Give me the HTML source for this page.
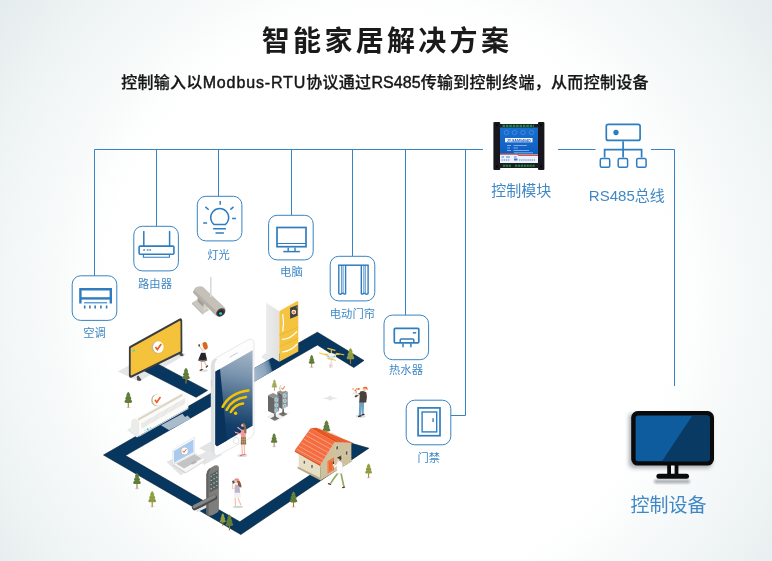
<!DOCTYPE html>
<html lang="zh-CN">
<head>
<meta charset="utf-8">
<title>智能家居解决方案</title>
<style>
html,body{margin:0;padding:0;}
body{width:772px;height:561px;overflow:hidden;position:relative;background:#fff;
font-family:"Liberation Sans","Noto Sans CJK SC",sans-serif;}
#bg{position:absolute;left:0;top:0;width:772px;height:561px;
background:radial-gradient(circle 500px at 390px 300px,#fff 0,#fff 57%,#f3f7f7 76%,#e4ebec 100%);}
h1{position:absolute;left:0;top:21.5px;width:772px;margin:0;text-align:center;font-size:28px;line-height:40px;font-weight:700;color:#1a1a1a;letter-spacing:3.3px;text-indent:2px;}
p.sub{position:absolute;left:-1px;top:71px;width:772px;margin:0;text-align:center;font-size:16px;line-height:24px;font-weight:500;color:#161616;-webkit-text-stroke:0.25px #161616;letter-spacing:0.3px;}
p.sub span{letter-spacing:0.87px;-webkit-text-stroke:0.45px #161616;}
p.sub span.b{letter-spacing:0.07px;}
svg{position:absolute;left:0;top:0;will-change:transform;}
h1,p.sub{will-change:transform;}
svg text{font-family:"Liberation Sans","Noto Sans CJK SC",sans-serif;}
.lb{font-size:11.3px;fill:#3f88c5;text-anchor:middle;}
.lb2{font-size:15px;fill:#3f88c5;text-anchor:middle;}
.lb3{font-size:19px;fill:#3f88c5;text-anchor:middle;}
</style>
</head>
<body>
<div id="bg"></div>
<h1>智能家居解决方案</h1>
<p class="sub">控制输入以<span>Modbus-RTU</span>协议通过<span class="b">RS485</span>传输到控制终端，从而控制设备</p>
<svg width="772" height="561" viewBox="0 0 772 561">
<!-- connection lines -->
<g fill="none" stroke="#3883c2" stroke-width="1">
<path d="M94.5 276V149.5H483"/>
<path d="M156.5 226V149.5"/>
<path d="M218.5 196V149.5"/>
<path d="M291.5 215V149.5"/>
<path d="M352.5 256V149.5"/>
<path d="M405.5 315V149.5"/>
<path d="M451 415.5H465.5V149.5"/>
<path d="M558 149.5H595.5"/>
<path d="M651 149.5H674.5V386"/>
</g>
<!-- icon boxes -->
<g fill="#fff" stroke="#3883c2" stroke-width="1">
<rect x="72.2" y="275.8" width="44.6" height="44.6" rx="8.5"/>
<rect x="133.8" y="226.3" width="44.6" height="44.6" rx="8.5"/>
<rect x="197.3" y="196.3" width="44.6" height="44.6" rx="8.5"/>
<rect x="268.6" y="215.3" width="44.6" height="44.6" rx="8.5"/>
<rect x="330.2" y="256.3" width="44.6" height="44.6" rx="8.5"/>
<rect x="384" y="315.1" width="44.6" height="44.6" rx="8.5"/>
<rect x="406.2" y="400.2" width="44.6" height="44.6" rx="8.5"/>
</g>
<!-- air conditioner icon -->
<g fill="none" stroke="#2f7dbf">
<path d="M80.4 303.5V289.2H110.8V303.5" stroke-width="2.4"/>
<path d="M80.4 298.4H110.8" stroke-width="2.4"/>
<path d="M84.1 302.8H107.2" stroke-width="1.1"/>
<path d="M84.7 305.6v3M89.9 305.6v3M95.2 305.6v3M100.9 305.6v3M106.6 305.6v3" stroke-width="1.6"/>
</g>
<!-- router icon -->
<g fill="none" stroke="#2f7dbf">
<rect x="139.1" y="246.1" width="34.8" height="8.2" rx="1" stroke-width="1.6"/>
<path d="M143.8 231.4V246M169.6 231.4V246" stroke-width="1.5" stroke-linecap="round"/>
<path d="M143.4 254.5V257.3H169.4V254.5" stroke-width="1.1"/>
<path d="M143.3 250h1.6M146.8 250h1M148.5 250h1M150.1 250h1" stroke-width="1.6"/>
</g>
<!-- light bulb icon -->
<g fill="none" stroke="#2f7dbf" stroke-width="1.5">
<path d="M214.2 224.6A9 9 0 1 1 225.2 224.6Z" stroke-linejoin="round"/>
<path d="M213.2 228.8H225.9M215.5 232.9H223.9"/>
<path d="M220.2 201.1V204.8M205.4 206.9L208.7 209.8M233.5 206.9L230.4 209.6M203.2 222.9H207.1M232.1 218.6H235.9"/>
</g>
<!-- computer icon -->
<g fill="none" stroke="#2f7dbf">
<rect x="277" y="227.5" width="29" height="19.2" stroke-width="1.7"/>
<path d="M277 243.5H306" stroke-width="1"/>
<path d="M288.2 247.4V251.5M295 247.4V251.5" stroke-width="1.4"/>
<path d="M283.3 251.6H299.9" stroke-width="1.5"/>
</g>
<!-- curtain icon -->
<g fill="none" stroke="#2f7dbf">
<path d="M338.1 265.2H368.6" stroke-width="1.5"/>
<path d="M338.8 265V293.5Q340.3 295 341.8 293.6L343 293.2Q344.4 294.6 345.6 293.6V265" stroke-width="1.4"/>
<path d="M341.6 265V293.5M343.1 265V293.2" stroke-width="0.8"/>
<path d="M361.3 265V293.6Q362.5 294.6 363.9 293.2L365.1 293.6Q366.6 295 368.1 293.5V265" stroke-width="1.4"/>
<path d="M363.8 265V293.2M365.3 265V293.5" stroke-width="0.8"/>
</g>
<!-- water heater icon -->
<g fill="none" stroke="#2f7dbf">
<rect x="394.3" y="328.3" width="24.5" height="14.5" rx="1" stroke-width="1.7"/>
<path d="M400.2 342.8V340Q400.2 339 401.2 339H412.8Q413.8 339 413.8 340V342.8" stroke-width="1.5"/>
<path d="M412.8 332.8H416.2" stroke-width="1.5"/>
<path d="M403 343.5V347.3M410.9 343.5V347.3" stroke-width="1.5"/>
</g>
<!-- door icon -->
<g fill="none" stroke="#2f7dbf">
<rect x="418.1" y="407.9" width="21.9" height="27.8" stroke-width="1.7"/>
<rect x="422.1" y="412" width="14.6" height="19.9" stroke-width="1.4"/>
<path d="M433.1 418.3V422" stroke-width="1.4"/>
</g>
<!-- RS485 bus icon -->
<g fill="none" stroke="#2f7dbf" stroke-width="1.7">
<rect x="606.3" y="124.3" width="33.8" height="16.1" rx="2"/>
<path d="M623.1 141.2V157.5M604.6 157.5V149.6H641.6V157.5"/>
<rect x="600.3" y="158.4" width="9.4" height="8.8" rx="1.5" stroke-width="1.5"/>
<rect x="618.2" y="158.4" width="9.4" height="8.8" rx="1.5" stroke-width="1.5"/>
<rect x="636.7" y="158.4" width="9.4" height="8.8" rx="1.5" stroke-width="1.5"/>
<circle cx="616" cy="132.5" r="1.8" fill="#2f7dbf"/>
</g>
<!-- labels -->
<text class="lb" x="94.5" y="337">空调</text>
<text class="lb" x="155" y="288.2">路由器</text>
<text class="lb" x="218.6" y="259">灯光</text>
<text class="lb" x="291.4" y="276.3">电脑</text>
<text class="lb" x="352.4" y="318.3">电动门帘</text>
<text class="lb" x="406" y="374">热水器</text>
<text class="lb" x="428.7" y="462.3">门禁</text>
<text class="lb2" x="521.2" y="196">控制模块</text>
<text class="lb2" x="626.8" y="201">RS485总线</text>
<text class="lb3" x="668.6" y="512">控制设备</text>
<!-- control module -->
<defs>
<filter id="blur1" x="-20%" y="-20%" width="140%" height="140%"><feGaussianBlur stdDeviation="0.5"/></filter>
<filter id="blur2" x="-30%" y="-30%" width="160%" height="160%"><feGaussianBlur stdDeviation="2.2"/></filter>
<filter id="blur3" x="-30%" y="-30%" width="160%" height="160%"><feGaussianBlur stdDeviation="1.2"/></filter>
<linearGradient id="modblue" x1="0" y1="0" x2="0" y2="1"><stop offset="0" stop-color="#1a6fd0"/><stop offset="1" stop-color="#0f5fc0"/></linearGradient>
</defs>
<g filter="url(#blur1)">
<rect x="493.4" y="122" width="6.8" height="48" rx="1" fill="#16181b"/>
<rect x="538" y="122" width="6.4" height="48" rx="1" fill="#16181b"/>
<rect x="499" y="124" width="40" height="5" fill="#1b1d20"/>
<rect x="499" y="162.5" width="40" height="5.5" fill="#1b1d20"/>
<path d="M502.5 125.9H534" stroke="#24873f" stroke-width="2.2" stroke-dasharray="2.6 0.8" fill="none"/>
<path d="M503 165.7H511" stroke="#24873f" stroke-width="2" stroke-dasharray="2.2 0.7" fill="none"/>
<path d="M515 165.7H535" stroke="#24873f" stroke-width="2" stroke-dasharray="2.2 0.7" fill="none"/>
<rect x="500" y="127.5" width="38" height="27" fill="url(#modblue)"/>
<rect x="500" y="155" width="38" height="8" fill="#eef3fb"/>
<path d="M500 154H517L519 155.4H538" stroke="#e8502e" stroke-width="1.1" fill="none"/>
<rect x="505" y="138" width="27.5" height="4.3" fill="#f4f8ff"/>
<text x="518.8" y="141.5" font-size="3.4" font-weight="700" fill="#1d5cc0" text-anchor="middle" textLength="24" lengthAdjust="spacingAndGlyphs">JY-8AM0404D</text>
<g fill="none" stroke="#4d8fe0" stroke-width="0.8"><circle cx="506.5" cy="132.5" r="2.2"/><circle cx="514.5" cy="132.5" r="2.2"/><circle cx="523" cy="132.5" r="2.2"/><circle cx="531.5" cy="132.5" r="2.2"/></g>
<g stroke="#9cc0f0" stroke-width="0.8"><path d="M507 145.5H511M513.5 145.5H527M507 148H510M513.5 148H518M507 150.5H511M513.5 150.5H529M514 152.8H533"/></g>
<g stroke="#3a78d2" stroke-width="0.9"><path d="M501.5 157H504M506 157H510M514 157H516.5"/><path d="M501.5 160H510M519 160H535" stroke-dasharray="1.4 0.7"/><path d="M514 159.5H517.5" stroke-width="2"/></g>
<circle cx="496.8" cy="125.3" r="1" fill="#000"/><circle cx="496.8" cy="166.6" r="1" fill="#000"/><circle cx="541.2" cy="125.3" r="1" fill="#000"/><circle cx="541.2" cy="166.6" r="1" fill="#000"/>
</g>
<!-- control device monitor -->
<g>
<path d="M629 416Q629 414 631 414H708Q712 414 712 418V462Q712 468 706 468H634Q629 468 629 463Z" fill="#8a9097" opacity="0.75" filter="url(#blur2)"/>
<rect x="654" y="479.5" width="36" height="4" rx="2" fill="#9aa0a6" opacity="0.8" filter="url(#blur3)"/>
<rect x="667.2" y="464" width="11.2" height="11" fill="#0a0a0a"/>
<rect x="671" y="465" width="3.6" height="9.2" fill="#f2f4f5"/>
<rect x="656.4" y="473.8" width="32.6" height="5" rx="2.5" fill="#0a0a0a"/>
<rect x="631.2" y="411" width="82.8" height="54.6" rx="6.5" fill="#0a0a0a"/>
<rect x="635.6" y="415.4" width="74" height="45.8" rx="2.5" fill="#0e5c9e"/>
<path d="M692.4 415.4H707.1Q709.6 415.4 709.6 417.9V458.7Q709.6 461.2 707.1 461.2H662Z" fill="#083a63"/>
</g>
<!-- isometric smart home illustration -->
<defs>
<linearGradient id="roadfade" gradientUnits="userSpaceOnUse" x1="254" y1="372" x2="278" y2="365"><stop offset="0" stop-color="#a3b6c9"/><stop offset="0.45" stop-color="#8da5bd"/><stop offset="0.66" stop-color="#6283a5"/><stop offset="0.74" stop-color="#09355f"/></linearGradient>
<linearGradient id="phscreen" gradientUnits="userSpaceOnUse" x1="228" y1="447" x2="246" y2="351"><stop offset="0" stop-color="#0a3560"/><stop offset="0.22" stop-color="#123e69"/><stop offset="0.5" stop-color="#456889"/><stop offset="0.75" stop-color="#7b95af"/><stop offset="1" stop-color="#a3b5c6"/></linearGradient>
<linearGradient id="fridgeL" x1="0" y1="0" x2="1" y2="0"><stop offset="0" stop-color="#ececec"/><stop offset="1" stop-color="#e1e1e1"/></linearGradient>
<g id="tree">
<rect x="-0.55" y="-5" width="1.1" height="5" fill="#ad7b35"/>
<path d="M0 -15.8C1 -15 1.7 -13.6 2 -12.6C2.2 -11.9 1.7 -11.7 1.4 -11.7C2.2 -11 2.9 -10 3 -9.1C3.1 -8.4 2.6 -8.2 2.2 -8.2C3 -7.5 3.7 -6.7 3.8 -5.9C3.9 -4.9 3 -4.5 2 -4.5H-2C-3 -4.5 -3.9 -4.9 -3.8 -5.9C-3.7 -6.7 -3 -7.5 -2.2 -8.2C-2.6 -8.2 -3.1 -8.4 -3 -9.1C-2.9 -10 -2.2 -11 -1.4 -11.7C-1.7 -11.7 -2.2 -11.9 -2 -12.6C-1.7 -13.6 -1 -15 0 -15.8Z" fill="#637f3c"/>
<path d="M-2.4 -9L2.4 -9M-3.2 -6.2L3.2 -6.2" stroke="#4f6c35" stroke-width="0.5" opacity="0.6"/>
</g>
<g id="tree2">
<rect x="-0.55" y="-5" width="1.1" height="5" fill="#a8792c"/>
<path d="M0 -15.8C1 -15 1.7 -13.6 2 -12.6C2.2 -11.9 1.7 -11.7 1.4 -11.7C2.2 -11 2.9 -10 3 -9.1C3.1 -8.4 2.6 -8.2 2.2 -8.2C3 -7.5 3.7 -6.7 3.8 -5.9C3.9 -4.9 3 -4.5 2 -4.5H-2C-3 -4.5 -3.9 -4.9 -3.8 -5.9C-3.7 -6.7 -3 -7.5 -2.2 -8.2C-2.6 -8.2 -3.1 -8.4 -3 -9.1C-2.9 -10 -2.2 -11 -1.4 -11.7C-1.7 -11.7 -2.2 -11.9 -2 -12.6C-1.7 -13.6 -1 -15 0 -15.8Z" fill="#93a142"/>
<path d="M-2.4 -9L2.4 -9M-3.2 -6.2L3.2 -6.2" stroke="#74863c" stroke-width="0.5" opacity="0.7"/>
</g>
<g id="check">
<ellipse cx="-0.7" cy="0.3" rx="5.2" ry="5.7" fill="#cbb894"/>
<ellipse cx="0.3" cy="0" rx="4.8" ry="5.4" fill="#fff"/>
<path d="M-2.4 -0.2L-0.6 2.2L2.9 -2.8" fill="none" stroke="#f05a1e" stroke-width="1.5"/>
</g>
</defs>
<!-- ground shadows -->
<path d="M117.6 371.4L129 365.6L183 352.6L185.8 354.8L139 381.6Z" fill="#e4e5e6"/>
<path d="M196 457L214 447L222 455L204 465Z" fill="#e4e6e8"/>
<path d="M261 357L267 352L281 362L274 366Z" fill="#e6e8ea"/>
<!-- road -->
<g fill="#07365f" stroke="#041c33" stroke-width="0.6" stroke-linejoin="miter">
<path d="M103.5 455L317.4 332.2L363.9 360.5L353.8 367.5L317.4 345L125.5 455.6L239.8 521.8L312 473.8L351.6 443.3L368.8 448.2L240.8 534.5Z"/>
<path d="M150 360L159 364.7L207.5 390.4L196.1 397.3L146.1 371.8L138 367.5Z"/>
</g>
<path d="M253 368.9L281 352.9L281 366.3L253 382.5Z" fill="url(#roadfade)"/>
<path d="M161 425.2L182.5 413.7L185 417L187.5 415.4L190.7 418.8L169.2 430.3Z" fill="#a9bccc"/>
<!-- security camera -->
<g>
<path d="M192 302.8L197.8 299.2L209.2 310L203.2 313.8Z" fill="#cbc7bf"/>
<path d="M192 302.8L203.2 313.8V315L192 304Z" fill="#b0aba3"/>
<path d="M197.6 296.5L204 302.6V307.4L197.6 301.4Z" fill="#a39e97"/>
<path d="M203.4 304.6L207.6 302.2V309L203.4 311.4Z" fill="#d6d3cb"/>
<path d="M193.2 292.8Q193.4 288 197.4 286.7Q200.4 285.6 202.8 286.7L225.3 308Q226.4 312 222.8 315.2Q218.8 317.8 215.8 315.6Z" fill="#c5c1b9"/>
<path d="M193.2 292.8L215.8 315.6Q214.6 313 215.6 310.6L194.2 290.2Q193.3 291.2 193.2 292.8Z" fill="#b4afa7"/>
<rect x="210" y="277" width="1.6" height="20" fill="#dadad9"/>
<ellipse cx="220.7" cy="312.4" rx="5" ry="3.7" transform="rotate(-38 220.7 312.4)" fill="#4a3f3b"/>
<ellipse cx="220.6" cy="312.9" rx="3.2" ry="2.4" transform="rotate(-38 220.6 312.9)" fill="#2a2628"/>
<ellipse cx="220.6" cy="313.5" rx="1.6" ry="1.3" fill="#1fd4ea"/>
</g>
<!-- television -->
<g>
<path d="M136.8 376.4L138.4 375.6L141.6 380L139.8 381L137 380.2Z" fill="#4a4c52"/>
<path d="M179.2 352.4L180.8 351.6L183.8 355.2L182.2 356.2L179.6 355.6Z" fill="#4a4c52"/>
<path d="M130.9 347.8L180.2 320.4L180.4 351.5L130.9 375.6Z" fill="#3a3c43" stroke="#3a3c43" stroke-width="4" stroke-linejoin="round"/>
<path d="M131.5 348.5L179.7 321.6L179.8 350.9L131.5 374.6Z" fill="#f4c23b" stroke="#f4c23b" stroke-width="1.6" stroke-linejoin="round"/>
<g transform="translate(158 347.1) scale(1.1)"><use href="#check"/></g>
<circle cx="133.8" cy="350.6" r="1.15" fill="#19e0e6"/>
</g>
<!-- refrigerator -->
<g>
<path d="M266.1 302.7L279.3 311.3V361.8L266.1 353.7Z" fill="url(#fridgeL)"/>
<path d="M279.3 312.6Q279.3 311.3 280.4 310.6L296.8 301.2Q298.3 300.4 298.3 302V351.4L279.3 361.8Z" fill="#f4c340"/>
<path d="M279.3 335.4L298.3 327M279.3 346.7L298.3 338.3" stroke="#e0ab2c" stroke-width="0.5" fill="none"/>
<path d="M282.8 314.6Q284.2 322.6 282.8 331" stroke="#fff" stroke-width="1.2" fill="none" stroke-linecap="round"/>
<path d="M282.4 339.4Q290.4 339 296.8 331.6M282.4 352Q290.6 351.4 297.2 344" stroke="#fff" stroke-width="1.2" fill="none" stroke-linecap="round"/>
<path d="M290.1 307.7L297.6 305V315.7L290.1 318.8Z" fill="#3d4046"/>
<circle cx="293.8" cy="312.1" r="2.4" fill="#f7ece2"/><circle cx="293.8" cy="312.3" r="1.3" fill="#ee7b3c"/>
<circle cx="296.4" cy="307.2" r="0.5" fill="#3fd0e0"/>
</g>
<!-- trees (back) -->
<ellipse cx="128.3" cy="407.5" rx="2.4" ry="0.8" fill="#dcdfe1"/>
<ellipse cx="311.7" cy="367.3" rx="2.4" ry="0.8" fill="#dcdfe1"/>
<use href="#tree" x="128.3" y="407.5"/>
<use href="#tree" x="186" y="383.6"/>
<use href="#tree2" x="274.4" y="390.8" transform="translate(274.4 390.8) scale(0.72) translate(-274.4 -390.8)" opacity="0.85"/>
<use href="#tree" x="311.7" y="367.3" transform="translate(311.7 367.3) scale(0.8) translate(-311.7 -367.3)"/>
<use href="#tree2" x="350.5" y="363.8"/>
<use href="#tree" x="326.5" y="436"/>
<!-- air conditioner unit -->
<g>
<path d="M127 430L131 427.6L139.6 435.8L137 437.4Z" fill="#e6e8e9"/>
<path d="M131.1 423.4Q131 420 134 418.4L181.6 393.2Q183.4 392.4 184.8 393.8L187.4 396.6Q188.3 397.6 188.3 399.4V408L139.1 435.8L131.1 431Z" fill="#fbfbfa"/>
<path d="M131.1 423.4Q131 420 134 418.4Q138.8 419 139.1 424V435.8L131.1 431Z" fill="#ebebe9"/>
<path d="M139.1 435.8L188.3 408V409L139.1 436.8Z" fill="#e4e4e2"/>
<path d="M138 418.5L182.4 393.4V395.9L138 421Z" fill="#ddd6c6"/>
<g stroke="#b9b9b7" stroke-width="0.7" stroke-dasharray="0.7 0.6" fill="none"><path d="M141.3 424L184.6 398.9M141.5 425.3L184.8 400.2M141.7 426.6L185 401.5M141.9 427.9L185.2 402.8"/></g>
<circle cx="147.7" cy="429.2" r="1" fill="#1fd6f0"/>
<circle cx="145" cy="430.6" r="0.7" fill="#c4c4c4"/><circle cx="150.5" cy="427.7" r="0.7" fill="#c4c4c4"/>
<g transform="translate(157.4 400) scale(1.05)"><use href="#check"/></g>
</g>
<!-- smartphone -->
<g>
<path d="M199 448.2L212.5 440.6L214 455.4L207 452Z" fill="#e3e4e6"/>
<path d="M211.2 365.6Q211.2 360.8 215 358.6L246.8 340.4Q254 336.8 254 344V431.6Q254 436 250.4 438L219.4 454.6Q211.2 458.6 211.2 450Z" fill="#fdfdfd" stroke="#dcdee0" stroke-width="0.7"/>
<path d="M211.2 365.6Q211.2 360.8 215 358.6L217.6 359.2Q214.6 361.6 214.6 366V451Q214.6 455 217 455.6Q212 456.4 211.2 450Z" fill="#dddfe1"/>
<path d="M215.4 371.6L252.6 350.2V425.8L217 446.2L215.4 444.8Z" fill="url(#phscreen)"/>
<path d="M215.4 371.6L220 369L227 440.4L217 446.2L215.4 444.8Z" fill="#09335c"/>
<path d="M230 357L237.4 352.9" stroke="#c9ccd0" stroke-width="1" stroke-linecap="round"/>
<ellipse cx="236.2" cy="440.6" rx="2.7" ry="3.2" fill="#fff" stroke="#cfd2d5" stroke-width="0.6"/>
<rect x="210.9" y="380" width="0.9" height="7" fill="#c9ccd0"/>
<g fill="none" stroke="#f5c400" stroke-width="2.5" stroke-linecap="round">
<path d="M222.6 406.8Q230 392.6 248.4 390.4"/>
<path d="M226.6 409.8Q232.6 398.6 246 397"/>
<path d="M230.8 412Q235 404.6 243 403.6"/>
</g>
<circle cx="235.6" cy="413.2" r="1.7" fill="#f5c400"/>
</g>
<!-- speakers -->
<g>
<path d="M266.5 417L271 414.4L290 412.6L281 418.6L275 421.6Z" fill="#eceeef"/>
<path d="M278.4 414.1L283 411.8L287.6 414.1L283 416.5Z" fill="#77736e"/>
<rect x="282.4" y="408.6" width="1.5" height="5.6" fill="#65625e"/>
<path d="M277.4 391.8L282.1 394.4V409L277.4 406.4Z" fill="#666769"/>
<path d="M282.1 394.4L287.7 391.8V406.4L282.1 409Z" fill="#86878a"/>
<path d="M277.4 391.8L282.5 389.6L287.7 391.8L282.1 394.4Z" fill="#8f9092"/>
<g fill="#79bfc7" stroke="#d9dbdd" stroke-width="0.8"><ellipse cx="284.8" cy="395.6" rx="1.5" ry="1.9"/><ellipse cx="284.8" cy="400.8" rx="1.5" ry="1.9"/><ellipse cx="284.8" cy="406" rx="1.5" ry="1.9"/></g>
<path d="M270.2 418.4L274.8 416.1L279.4 418.4L274.8 420.8Z" fill="#77736e"/>
<rect x="274.2" y="413.2" width="1.5" height="5.4" fill="#65625e"/>
<path d="M268 395.3L274 398.3V413.7L268 411.1Z" fill="#666769"/>
<path d="M274 398.3L279.1 396.1V411.1L274 413.7Z" fill="#86878a"/>
<path d="M268 395.3L273.1 393.1L279.1 396.1L274 398.3Z" fill="#8f9092"/>
<g fill="#79bfc7" stroke="#d9dbdd" stroke-width="0.8"><ellipse cx="276.4" cy="399.8" rx="1.5" ry="1.9"/><ellipse cx="276.4" cy="405.2" rx="1.5" ry="1.9"/><ellipse cx="276.4" cy="410.4" rx="1.5" ry="1.9"/></g>
<g transform="translate(283 388) scale(0.62)"><use href="#check"/></g>
</g>
<!-- drone -->
<g>
<path d="M331.3 350.4L331.5 359M324.4 354.3L339 354.3" stroke="#e8bb3a" stroke-width="1.3" stroke-linecap="round"/>
<path d="M326.4 355.2Q331.3 351.2 336.2 355.2Q336.6 358.4 331.3 359.2Q326 358.4 326.4 355.2Z" fill="#dfe2e5"/>
<path d="M327.4 354.8Q331.3 351.8 335.2 354.8Q331.3 357.6 327.4 354.8Z" fill="#f4f5f6"/>
<g stroke="#f3c63f" stroke-width="1.1" stroke-linecap="round"><path d="M327.8 348.4L335 350.4M319.6 353L327 355.2M336.4 353.2L343.8 354.8M328 358.6L335.6 360.2"/></g>
<circle cx="328.2" cy="356.4" r="0.6" fill="#42c6dd"/><circle cx="334.4" cy="356.4" r="0.6" fill="#42c6dd"/>
<rect x="330.7" y="359.4" width="0.9" height="4.6" fill="#d4d6d8"/>
<rect x="329.2" y="364" width="3.2" height="3.6" fill="#f7f2ec" stroke="#e3c9bd" stroke-width="0.4"/>
<path d="M330.2 366.6L331.4 365" stroke="#e8603a" stroke-width="0.6"/>
</g>
<!-- sparkle -->
<path d="M321.5 398.2Q329 397.6 330 395.2Q331 397.6 338.5 398.2Q331 398.8 330 401Q329 398.8 321.5 398.2Z" fill="#e3e5e7"/>
<!-- laptop -->
<g>
<path d="M166.4 462L172.6 458.8L185.6 472.6L180.6 475.2Z" fill="#e4e5e6"/>
<path d="M173.2 464.5L194.5 453L205.8 459.7L185.7 472.5Z" fill="#f7f7f7" stroke="#d6d6d6" stroke-width="0.5"/>
<path d="M173.2 464.5L185.7 472.5V473.6L173.2 465.6Z" fill="#cdcdcd"/>
<path d="M185.7 472.5L205.8 459.7V460.8L185.7 473.6Z" fill="#dcdcdc"/>
<path d="M176.2 463.8L194.5 454.2L202 458.6L184 468.6Z" fill="#c4c4c4"/>
<path d="M190.4 463.2L194.8 460.6L197.2 462L192.8 464.6Z" fill="#b4b4b4"/>
<path d="M172.5 450.1L194.5 437.2V453L173.2 464.5Z" fill="#fff" stroke="#d3d5d7" stroke-width="0.5"/>
<path d="M173.7 451L193.5 439.4V452.2L174.1 462.8Z" fill="#a9cbf0"/>
<g transform="translate(184.4 451) scale(0.66)"><use href="#check"/></g>
</g>
<!-- smart lock -->
<g>
<path d="M196 509.5L207 504.5L207 507.6L197 512.2Z" fill="#dfe1e3"/>
<path d="M206.4 474.6Q206.4 471 209.4 468.6L214.6 465.6Q218.9 464.4 218.9 468.6V509.4Q218.9 511.4 217.4 512.4L212.4 515.2Q206.4 517 206.4 512Z" fill="#7d7d7c"/>
<path d="M206.4 474.6Q206.4 471 209.4 468.6L210.6 469.4Q208.6 471.4 208.6 474.8V513.4Q208.6 515.4 210 515.8Q206.4 516.4 206.4 512Z" fill="#626262"/>
<path d="M209.8 474.8L218 470.2V488L209.8 492.6Z" fill="#5e5e5e"/>
<g fill="#7fe0e0"><circle cx="211.2" cy="476.2" r="0.7"/><circle cx="214" cy="474.6" r="0.7"/><circle cx="216.8" cy="473" r="0.7"/><circle cx="211.2" cy="480.4" r="0.7"/><circle cx="214" cy="478.8" r="0.7"/><circle cx="216.8" cy="477.2" r="0.7"/><circle cx="211.2" cy="484.6" r="0.7"/><circle cx="214" cy="483" r="0.7"/><circle cx="216.8" cy="481.4" r="0.7"/><circle cx="211.2" cy="488.8" r="0.7"/><circle cx="214" cy="487.2" r="0.7"/><circle cx="216.8" cy="485.6" r="0.7"/></g>
<path d="M194.6 507.6L214.4 497.4" stroke="#4d4d4e" stroke-width="5.4" stroke-linecap="round"/>
<path d="M194.4 506.6L214.2 496.4" stroke="#858586" stroke-width="3.4" stroke-linecap="round"/>
</g>
<!-- trees (front) -->
<ellipse cx="137" cy="488.6" rx="2.4" ry="0.8" fill="#dcdfe1"/>
<ellipse cx="152.2" cy="506.8" rx="2.4" ry="0.8" fill="#dcdfe1"/>
<ellipse cx="274.1" cy="446.6" rx="2.4" ry="0.8" fill="#dcdfe1"/>
<ellipse cx="293.5" cy="507" rx="2.4" ry="0.8" fill="#dcdfe1"/>
<ellipse cx="368.6" cy="477.6" rx="2.4" ry="0.8" fill="#dcdfe1"/>
<use href="#tree" x="137" y="488.6"/>
<use href="#tree2" x="152.2" y="506.8"/>
<use href="#tree" x="274.1" y="446.6" transform="translate(274.1 446.6) scale(0.85) translate(-274.1 -446.6)"/>
<use href="#tree2" x="222.8" y="526" transform="translate(222.8 526) scale(0.8) translate(-222.8 -526)"/>
<use href="#tree" x="229.4" y="530.4"/>
<use href="#tree" x="293.5" y="507"/>
<use href="#tree2" x="368.6" y="477.6" transform="translate(368.6 477.6) scale(0.9) translate(-368.6 -477.6)"/>
<!-- house -->
<g>
<path d="M298.7 454.3L320.6 464.9V479.6L298.7 468.6Z" fill="#e7dfc4"/>
<path d="M320.6 464.3L334.9 441.8L351.4 443.1V460.6L320.6 479.6Z" fill="#cfc19c"/>
<path d="M297.6 466.6L320.6 478L352.2 459.4V461.2L320.6 480.4L297.6 468.6Z" fill="#b9ab88"/>
<path d="M310.6 428.3L316.4 427.8L353.4 442.9L334.9 441.9Z" fill="#e4551f"/>
<path d="M310.6 428.3L334.9 441.8L320.6 464.6L294.8 450.2Z" fill="#f46d40"/>
<path d="M294.8 450.2L320.6 464.6L320.6 466.2L294.8 451.8Z" fill="#d9501f"/>
<g stroke="#fbc0ac" stroke-width="0.6" fill="none"><path d="M308.3 431.9L332.7 445.3M306 435.5L330.4 448.9M303.7 439.1L328.1 452.5M301.4 442.7L325.8 456.1M299.1 446.3L323.5 459.7M296.9 449.3L321.6 462.9"/></g>
<g stroke="#f08a62" stroke-width="0.5" fill="none"><path d="M319 428L340 442.2M325 430.3L344.5 442.5M331 432.8L349 442.7"/></g>
<g fill="#5b5346" stroke="#f2eedf" stroke-width="0.6"><rect x="303.2" y="460.4" width="2" height="3.6"/><rect x="311" y="464.6" width="2" height="3.6"/><path d="M336 446.4L338.4 445.2V449.2L336 450.4Z"/><path d="M345.4 451.6L347.8 450.2V454.4L345.4 455.8Z"/><path d="M338.4 456.6L341.8 454.6V459.6L338.4 461.6Z"/></g>
<path d="M320.6 478.9L352 460.2" stroke="#efe9d6" stroke-width="0.9" stroke-dasharray="1 0.7" fill="none"/>
<path d="M327.6 461.2L333.9 457.5V469.9L327.6 473.6Z" fill="#f0672f"/>
<path d="M328.6 462L332.6 459.6V469.8L328.6 472.2Z" fill="none" stroke="#f9a98a" stroke-width="0.4"/>
</g>
<!-- people -->
<g>
<!-- girl beside tv -->
<ellipse cx="203.6" cy="370.7" rx="4.2" ry="1.1" fill="#dcdee0"/>
<path d="M201.3 361.5L201.7 369.6" stroke="#f7b59b" stroke-width="1.1"/>
<path d="M204.4 361.5L206.6 366.4" stroke="#f7b59b" stroke-width="1.1"/>
<path d="M200.2 370.3L202.2 369.5" stroke="#222" stroke-width="1.1" stroke-linecap="round"/>
<path d="M206.2 367.2L207.6 365.8" stroke="#222" stroke-width="1.1" stroke-linecap="round"/>
<path d="M201.2 352.4H205.3L207.2 360.6Q202.6 362.4 198 360.6Z" fill="#26262a"/>
<path d="M198.2 359.9Q202.6 361.6 207 359.9" stroke="#d9d9d9" stroke-width="0.5" fill="none"/>
<path d="M201.8 348.6L205 348.4L205.4 352.8H201.2Z" fill="#f4f4f4"/>
<path d="M199.6 346.6L202.8 350.6" stroke="#f7b59b" stroke-width="1" stroke-linecap="round"/>
<rect x="198.4" y="344.3" width="1.6" height="2.2" fill="#4a4d52" transform="rotate(-20 199.2 345.4)"/>
<circle cx="203.2" cy="344.2" r="1.6" fill="#f9c3a8"/>
<ellipse cx="205.3" cy="345.8" rx="2.3" ry="3.9" fill="#d4691f" transform="rotate(-12 205.3 345.8)"/>
<!-- girl at phone -->
<ellipse cx="242.3" cy="455.4" rx="5" ry="1.5" fill="#dcdee0"/>
<path d="M241.8 444L242.4 454.4M244.2 444L244.5 454" stroke="#f7b79c" stroke-width="1.1"/>
<path d="M240.4 455.6L242.6 455M243.4 454.8L245.2 454.2" stroke="#ea6b79" stroke-width="1.1" stroke-linecap="round"/>
<path d="M241 437H245.8L246.2 444.4H240.8Z" fill="#8f6e47"/>
<path d="M240.9 439.4H246M240.9 441.8H246.1M242.6 437V444.4M244.4 437V444.4" stroke="#d9c6a0" stroke-width="0.35" fill="none"/>
<path d="M241.2 429.8L245.4 429.4L245.8 437.2H241Z" fill="#f3979c"/>
<path d="M238.2 427.8L241.8 430.4M235.6 432.4L241.4 434.2" stroke="#f3979c" stroke-width="1.2" stroke-linecap="round"/>
<path d="M237.8 427.4L238.4 428M235.2 432L235.8 432.6" stroke="#f9c3a8" stroke-width="1" stroke-linecap="round"/>
<circle cx="242.7" cy="425.2" r="1.5" fill="#f9c3a8"/>
<path d="M242.2 423.4Q244.6 422.2 245.6 425Q246.8 429.4 246.4 433.2Q245 433.8 244.2 432.6Q244.6 428 243.4 425.4Q243 424 242.2 423.4Z" fill="#8b6a4c"/>
<!-- girl with cap -->
<ellipse cx="237.9" cy="506.9" rx="5" ry="1.1" fill="#d3d6d8"/>
<path d="M235.1 497.6L235.5 505.8M237.9 497.6L241 505.4" stroke="#f9b8a0" stroke-width="1.1"/>
<path d="M234.2 492.6L240.2 492.4L240.8 497.8H233.8Z" fill="#f3f3f6"/>
<path d="M234.8 484.8L239.2 484.4L240.2 492.8H234.6Z" fill="#bab7ca"/>
<path d="M232.9 483.2L232.3 488.6L234.8 488" stroke="#f9c3a8" stroke-width="0.9" fill="none" stroke-linecap="round"/>
<rect x="232.4" y="480.6" width="2.2" height="2.8" fill="#4c4f55" transform="rotate(-15 233.5 482)"/>
<circle cx="236" cy="481.8" r="1.5" fill="#f9c3a8"/>
<path d="M236.6 480.4Q239.8 480 240.8 483.6Q241.8 486 241.2 487.4Q239 487.6 238.2 485.6Q237.8 482.4 236.6 480.4Z" fill="#8d5a3c"/>
<path d="M233.8 480.6Q234.4 478.2 237 478.2Q239.4 478.4 239.6 480.8Q236.8 480.2 233.8 480.6Z" fill="#ef8a90"/>
<!-- man with tablet -->
<ellipse cx="360.6" cy="416.2" rx="5" ry="1.5" fill="#dcdee0"/>
<path d="M359.2 401.6H364.2L363.6 415H361.6L361.8 406L360.8 415.8H358.8Z" fill="#6f9fc2"/>
<path d="M358.6 416.4L361 415.8M362 415L364 414.4" stroke="#1d1d1f" stroke-width="1.2" stroke-linecap="round"/>
<path d="M360.2 391.4Q364 390 366.4 392.4Q367.6 397 366.2 402.4H359.2Q359.6 396 360.2 391.4Z" fill="#4b403b"/>
<path d="M361.6 392.6L355.6 396.4" stroke="#4b403b" stroke-width="1.8" stroke-linecap="round"/>
<path d="M353 392.6L359.6 394.4L358.8 395.6L352.6 393.6Z" fill="#f4f4f4" stroke="#cfcfcf" stroke-width="0.3"/>
<circle cx="364.4" cy="389.6" r="1.6" fill="#f9c3a8"/>
<path d="M362.6 388.6Q363 386.6 365.6 386.8Q368 387.2 367.6 390.2Q366.4 389.4 365.8 388.6Q364 388.2 362.6 388.6Z" fill="#f0631f"/>
<g fill="#f26b2a"><rect x="352.4" y="388.4" width="1.2" height="1.2"/><rect x="354.6" y="389.6" width="1.6" height="1.6"/><rect x="356.4" y="388.2" width="1.2" height="1.8"/><rect x="358" y="388" width="1.6" height="1.8"/><rect x="355.6" y="391.4" width="1.4" height="1.2"/></g>
<!-- walking man -->
<path d="M338.4 472.6L334.2 478L330.6 483.4" stroke="#8fae5d" stroke-width="1.7" fill="none" stroke-linejoin="round"/>
<path d="M340.9 472.6L342.2 479L343.9 486.8" stroke="#8fae5d" stroke-width="1.7" fill="none" stroke-linejoin="round"/>
<path d="M328.4 483.6L330.6 484.4M342.6 487.6L344.6 487.2" stroke="#6b2d3a" stroke-width="1.2" stroke-linecap="round"/>
<path d="M337.4 461.4Q340.6 460.6 342 463Q343.2 468 342.6 473.4H337Q336.4 466 337.4 461.4Z" fill="#fbfbfb" stroke="#e3e3e3" stroke-width="0.3"/>
<path d="M338.2 463.4L334.6 467L333.6 464.4" stroke="#f6f6f6" stroke-width="1.4" fill="none" stroke-linecap="round"/>
<rect x="332.8" y="461.6" width="1.2" height="2.4" fill="#3a3c40"/>
<circle cx="338.4" cy="459.6" r="1.5" fill="#f9c3a8"/>
<path d="M337 458Q338.2 456.2 340.4 456.8Q341.8 458 341 460.6Q339.8 460.2 339.4 458.8Q338 458.4 337 458Z" fill="#3d3a2c"/>
</g>
</svg>
</body>
</html>
